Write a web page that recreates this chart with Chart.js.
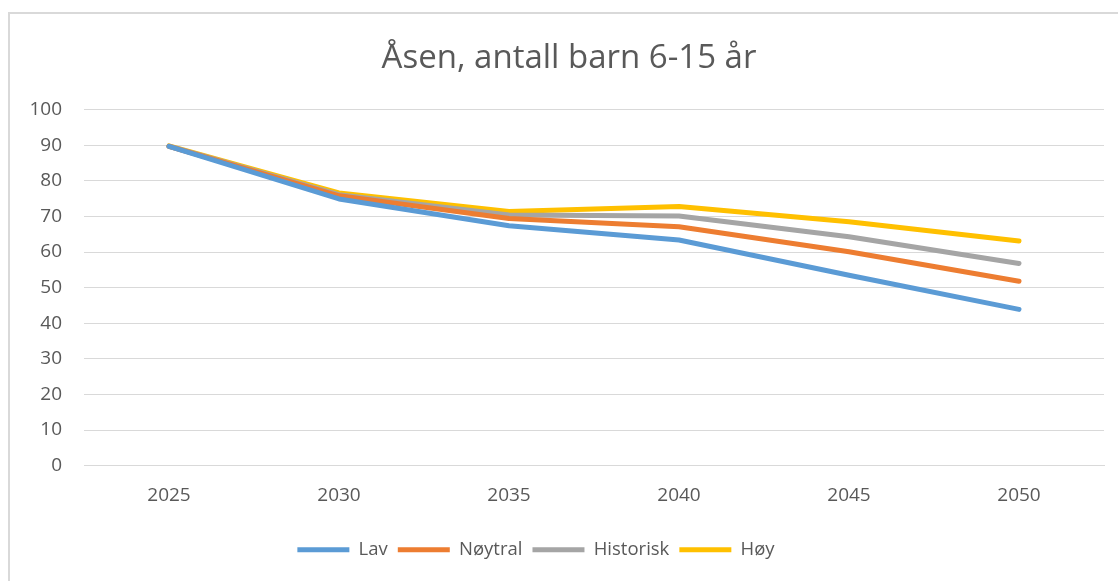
<!DOCTYPE html>
<html>
<head>
<meta charset="utf-8">
<script src="https://cdn.jsdelivr.net/npm/chart.js@4"></script>
<style>
html,body{margin:0;padding:0;background:#fff;overflow:hidden;}
#frame{position:absolute;left:8px;top:12px;width:1130px;height:600px;border:2px solid #d9d9d9;box-sizing:border-box;}
#wrap{position:absolute;left:0;top:0;width:1118px;height:581px;}
</style>
</head>
<body>
<div id="frame"></div>
<div id="wrap"><canvas id="c"></canvas></div>
<script>
const titleText = 'Åsen, antall barn 6-15 år';
const years = ['2025','2030','2035','2040','2045','2050'];
const lav = [89.7, 74.9, 67.4, 63.4, 53.5, 43.9];
const noytral = [89.7, 75.8, 69.4, 67.1, 60.1, 51.8];
const historisk = [89.7, 76.1, 70.4, 70.1, 64.3, 56.8];
const hoy = [89.8, 76.6, 71.4, 72.8, 68.5, 63.1];
const seriesNames = ['Lav','Nøytral','Historisk','Høy'];
const colors = ['#5B9BD5','#ED7D31','#A5A5A5','#FFC000'];
const yMin = 0, yMax = 100, yStep = 10;

const font = "'Open Sans', 'DejaVu Sans', sans-serif";
const mk = (i, data) => ({
  label: seriesNames[i], data, borderColor: colors[i], backgroundColor: colors[i],
  borderWidth: 5, pointRadius: 0, pointHoverRadius: 0, tension: 0,
  borderCapStyle: 'round', borderJoinStyle: 'round', fill: false
});
// shift title and legend boxes to match the reference's off-centre placement
const boxShift = {
  id: 'boxShift',
  afterLayout(chart) {
    const t = chart.titleBlock, l = chart.legend;
    if (t) { t.left += 17; t.right += 17; }
    if (l) { l.left -= 16; l.right -= 16; l.top += 6; l.bottom += 6; }
  }
};
new Chart(document.getElementById('c'), {
  type: 'line',
  data: { labels: years, datasets: [mk(0, lav), mk(1, noytral), mk(2, historisk), mk(3, hoy)] },
  plugins: [boxShift],
  options: {
    responsive: true, maintainAspectRatio: false, animation: false,
    layout: { padding: { left: 0, right: 14, top: 0, bottom: 18 } },
    plugins: {
      title: { display: true, text: titleText, color: '#595959',
        font: { family: font, size: 33, weight: '400' }, padding: { top: 39, bottom: 31 } },
      legend: { position: 'bottom',
        labels: { usePointStyle: true, pointStyle: 'line', pointStyleWidth: 52, padding: 10,
          color: '#595959', font: { family: font, size: 18.5 } } },
      tooltip: { enabled: false }
    },
    scales: {
      x: { offset: true, grid: { display: false, drawTicks: false },
        border: { display: true, color: '#d9d9d9', width: 1 },
        ticks: { color: '#595959', font: { family: font, size: 19 }, padding: 18 } },
      y: { min: yMin, max: yMax,
        grid: { color: '#d9d9d9', lineWidth: 1, drawTicks: false },
        border: { display: false },
        ticks: { stepSize: yStep, color: '#595959', font: { family: font, size: 19 }, padding: 22 },
        afterFit: s => { s.width = 84; } }
    }
  }
});
</script>
</body>
</html>
